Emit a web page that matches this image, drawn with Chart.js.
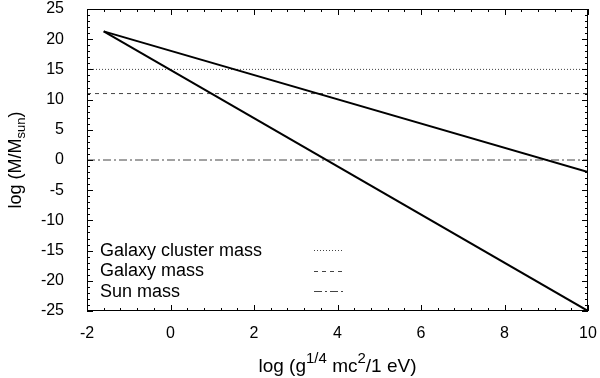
<!DOCTYPE html>
<html>
<head>
<meta charset="utf-8">
<script src="https://cdn.jsdelivr.net/npm/chart.js@4/dist/chart.umd.min.js"></script>
<style>
  html, body { margin: 0; padding: 0; background: #fff; }
  #wrap { width: 600px; height: 378px; }
</style>
</head>
<body>
<div id="wrap"><canvas id="myChart"></canvas></div>
<script>
// data
const curveX = [-1.6, 10];
const upperY = [21.3, -2];
const lowerY = [21.3, -25];

const refLabels = ['Galaxy cluster mass', 'Galaxy mass', 'Sun mass'];
const refValues = [15, 11, 0];
const refDashes = [[1, 2], [4, 4], [8, 3, 2, 3]];

const xMin = -2, xMax = 10, xStep = 2, xMinor = 0.4;
const yMin = -25, yMax = 25, yStep = 5, yMinor = 1;

const FONT = '"Liberation Sans", Arial, Helvetica, sans-serif';

function pairs(xs, ys) {
    let out = [];
    for (let i = 0; i < xs.length; i++) out.push({x: xs[i], y: ys[i]});
    return out;
}

let datasets = [
    {label: 'upper', data: pairs(curveX, upperY), borderColor: '#000', borderWidth: 2},
    {label: 'lower', data: pairs(curveX, lowerY), borderColor: '#000', borderWidth: 2}
];
for (let i = 0; i < refLabels.length; i++) {
    datasets.push({
        label: refLabels[i],
        data: pairs([xMin, xMax], [refValues[i], refValues[i]]),
        borderColor: '#444',
        borderWidth: 1,
        borderDash: refDashes[i],
        isRef: true
    });
}

// draw text pieces (normal / sub / sup) centered on cx
function drawRich(ctx, parts, cx, baseY) {
    let w = 0;
    parts.forEach(p => {
        ctx.font = p.size + 'px ' + FONT;
        p.w = ctx.measureText(p.t).width;
        w += p.w;
    });
    let x = cx - w / 2;
    ctx.textAlign = 'left';
    ctx.textBaseline = 'alphabetic';
    parts.forEach(p => {
        ctx.font = p.size + 'px ' + FONT;
        ctx.fillText(p.t, x, baseY + p.dy);
        x += p.w;
    });
}

// keep the tick labels from pushing the plot area in
function noOverflow(s) {
    s.paddingTop = 0; s.paddingBottom = 0;
    s.paddingLeft = 0; s.paddingRight = 0;
}

const framePlugin = {
    id: 'frame',
    afterDraw(chart) {
        const ctx = chart.ctx;
        const a = chart.chartArea;
        const xs = chart.scales.x, ys = chart.scales.y;
        ctx.save();
        ctx.strokeStyle = '#000';
        ctx.lineWidth = 1;
        ctx.setLineDash([]);
        ctx.strokeRect(Math.round(a.left) + 0.5, Math.round(a.top) + 0.5,
                       Math.round(a.right - a.left) - 1, Math.round(a.bottom - a.top) - 1);

        // ticks pointing inward, on all four sides
        ctx.beginPath();
        for (let v = xMin; v <= xMax + 1e-9; v += xMinor) {
            let px = Math.round(xs.getPixelForValue(v)) + 0.5;
            let major = Math.abs(v / xStep - Math.round(v / xStep)) < 1e-6;
            let len = major ? 6 : 3;
            ctx.moveTo(px, a.bottom); ctx.lineTo(px, a.bottom - len);
            ctx.moveTo(px, a.top); ctx.lineTo(px, a.top + len);
        }
        for (let v = yMin; v <= yMax + 1e-9; v += yMinor) {
            let py = Math.round(ys.getPixelForValue(v)) + 0.5;
            let major = Math.abs(v / yStep - Math.round(v / yStep)) < 1e-6;
            let len = major ? 6 : 3;
            ctx.moveTo(a.left, py); ctx.lineTo(a.left + len, py);
            ctx.moveTo(a.right, py); ctx.lineTo(a.right - len, py);
        }
        ctx.stroke();

        // legend, bottom left inside the plot
        ctx.fillStyle = '#000';
        ctx.font = '18px ' + FONT;
        ctx.textAlign = 'left';
        ctx.textBaseline = 'middle';
        chart.data.datasets.filter(d => d.isRef).forEach((d, i) => {
            let y = 251 + i * 20.5;
            ctx.fillText(d.label, 100, y);
            ctx.save();
            ctx.strokeStyle = d.borderColor;
            ctx.setLineDash(d.borderDash);
            ctx.beginPath();
            ctx.moveTo(314, Math.round(y) - 0.5);
            ctx.lineTo(344, Math.round(y) - 0.5);
            ctx.stroke();
            ctx.restore();
        });

        // axis titles
        ctx.fillStyle = '#000';
        drawRich(ctx, [
            {t: 'log (g', size: 19, dy: 0},
            {t: '1/4', size: 15, dy: -9},
            {t: ' mc', size: 19, dy: 0},
            {t: '2', size: 15, dy: -9},
            {t: '/1 eV)', size: 19, dy: 0}
        ], (a.left + a.right) / 2, 372);

        ctx.save();
        ctx.translate(21, (a.top + a.bottom) / 2);
        ctx.rotate(-Math.PI / 2);
        drawRich(ctx, [
            {t: 'log (M/M', size: 18, dy: 0},
            {t: 'sun', size: 13, dy: 4},
            {t: ')', size: 18, dy: 0}
        ], 0, 0);
        ctx.restore();
        ctx.restore();
    }
};

let config = {
    type: 'scatter',
    data: {datasets: datasets},
    options: {
        responsive: true,
        maintainAspectRatio: false,
        animation: false,
        showLine: true,
        elements: {point: {radius: 0}, line: {tension: 0}},
        layout: {padding: {top: 9, right: 12, left: 0, bottom: 0}},
        plugins: {legend: {display: false}, tooltip: {enabled: false}},
        scales: {
            x: {
                type: 'linear',
                min: xMin, max: xMax,
                grid: {display: false},
                border: {display: false},
                afterFit: s => { s.height = 67; noOverflow(s); },
                ticks: {stepSize: xStep, padding: 5, color: '#000', font: {family: FONT, size: 16}, maxRotation: 0}
            },
            y: {
                type: 'linear',
                min: yMin, max: yMax,
                grid: {display: false},
                border: {display: false},
                afterFit: s => { s.width = 87; noOverflow(s); },
                ticks: {stepSize: yStep, padding: 15, color: '#000', font: {family: FONT, size: 16}}
            }
        }
    },
    plugins: [framePlugin]
};

window.chart = new Chart(document.getElementById('myChart'), config);
</script>
</body>
</html>
